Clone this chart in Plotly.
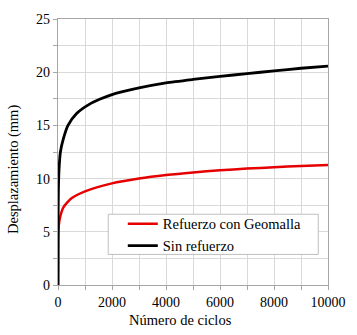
import plotly.graph_objects as go

ciclos_sin = [0, 5, 15, 37, 89, 200, 370, 680, 1170, 1540, 2000, 3000, 4000, 5000, 6000, 7000, 8000, 9000, 10000]
desp_sin = [0, 6.5, 9.0, 10.8, 12.5, 13.75, 15.0, 16.1, 17.0, 17.45, 17.9, 18.52, 19.0, 19.32, 19.6, 19.87, 20.12, 20.37, 20.58]

ciclos_geo = [0, 5, 20, 50, 100, 200, 500, 1000, 2000, 3000, 4000, 5000, 6000, 7000, 8000, 9000, 10000]
desp_geo = [0, 4.0, 5.3, 6.0, 6.6, 7.3, 8.15, 8.8, 9.55, 10.0, 10.33, 10.58, 10.78, 10.94, 11.07, 11.18, 11.27]

titulo_x = "Número de ciclos"
titulo_y = "Desplazamiento (mm)"

font = "Liberation Serif"

fig = go.Figure()
fig.add_trace(go.Scatter(x=ciclos_geo, y=desp_geo, mode="lines", name="Refuerzo con Geomalla",
                         line=dict(color="#e60000", width=2.5, shape="spline", smoothing=0.6)))
fig.add_trace(go.Scatter(x=ciclos_sin, y=desp_sin, mode="lines", name="Sin refuerzo",
                         line=dict(color="#000000", width=2.8, shape="spline", smoothing=0.6)))

# legend frame (box drawn behind the legend entries)
fig.add_shape(type="rect", xref="paper", yref="paper",
              x0=0.186, x1=0.964, y0=0.115, y1=0.266,
              fillcolor="white", line=dict(color="#bfbfbf", width=1), layer="above")

# axis titles (placed as in the original figure)
fig.add_annotation(text=titulo_x, xref="paper", yref="paper", x=0.452, y=-0.1316,
                   xanchor="center", yanchor="middle", showarrow=False,
                   font=dict(family=font, size=14.5, color="black"))
fig.add_annotation(text=titulo_y, xref="paper", yref="paper", x=-0.1667, y=0.436,
                   xanchor="center", yanchor="middle", textangle=-90, showarrow=False,
                   font=dict(family=font, size=14.5, color="black"))

fig.update_layout(
    width=357, height=335,
    margin=dict(l=58, r=29, t=19, b=50),
    paper_bgcolor="white", plot_bgcolor="white",
    font=dict(family=font, size=14, color="black"),
    showlegend=True,
    legend=dict(x=0.24, y=0.29, xanchor="left", yanchor="top",
                bgcolor="rgba(0,0,0,0)", borderwidth=0,
                font=dict(family=font, size=14.5, color="black"),
                tracegroupgap=0),
    xaxis=dict(range=[0, 10000], dtick=2000, tick0=0, tickformat="d",
               showgrid=True, gridcolor="#d9d9d9", gridwidth=1,
               showline=True, linecolor="#a6a6a6", linewidth=1.2, mirror=True,
               ticks="outside", ticklen=4, tickcolor="#a6a6a6",
               minor=dict(dtick=1000, showgrid=True, gridcolor="#d9d9d9", ticks="outside", ticklen=4, tickcolor="#a6a6a6"),
               zeroline=False,
               tickfont=dict(family=font, size=14)),
    yaxis=dict(range=[0, 25], dtick=5, tick0=0,
               showgrid=True, gridcolor="#d9d9d9", gridwidth=1,
               showline=True, linecolor="#a6a6a6", linewidth=1.2, mirror=True,
               ticks="outside", ticklen=4, tickcolor="#a6a6a6",
               minor=dict(dtick=2.5, showgrid=True, gridcolor="#d9d9d9", ticks="outside", ticklen=4, tickcolor="#a6a6a6"),
               zeroline=False,
               tickfont=dict(family=font, size=14)),
)

fig.write_html("out.html")
